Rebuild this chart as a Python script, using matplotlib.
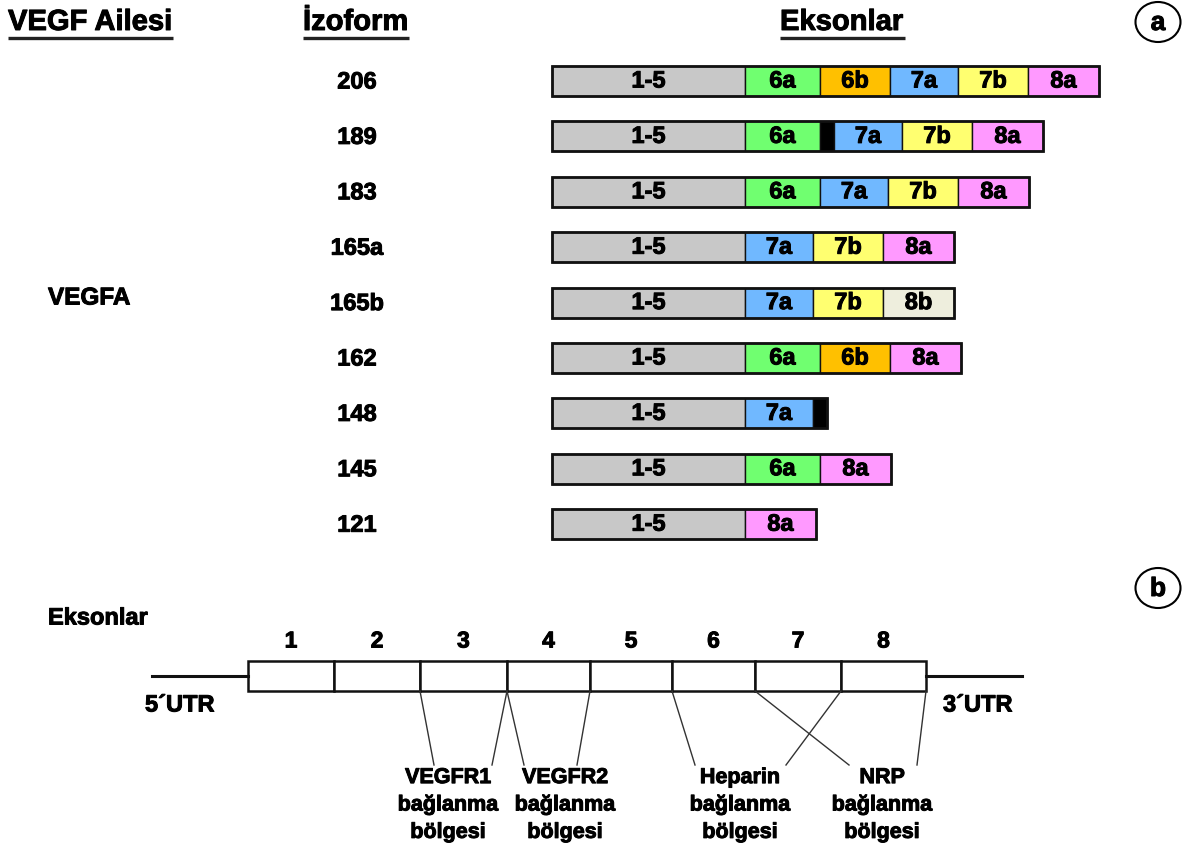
import matplotlib
matplotlib.use("Agg")
import matplotlib.pyplot as plt
from matplotlib.patches import Rectangle, Ellipse
import matplotlib.patheffects as pe

plt.rcParams['font.family'] = ['Liberation Sans', 'DejaVu Sans']
plt.rcParams['font.weight'] = 'bold'

# ---- data ----
family = 'VEGFA'
isoforms = ['206', '189', '183', '165a', '165b', '162', '148', '145', '121']
iso_segments = [
    ['1-5', '6a', '6b', '7a', '7b', '8a'],
    ['1-5', '6a', 'x', '7a', '7b', '8a'],
    ['1-5', '6a', '7a', '7b', '8a'],
    ['1-5', '7a', '7b', '8a'],
    ['1-5', '7a', '7b', '8b'],
    ['1-5', '6a', '6b', '8a'],
    ['1-5', '7a', 'x'],
    ['1-5', '6a', '8a'],
    ['1-5', '8a'],
]
exon_names = ['1-5', '6a', '6b', '7a', '7b', '8a', '8b', 'x']
exon_len = [193, 75, 70, 68, 70, 71, 71, 14]
exon_colors = ['#C8C8C8', '#70FF70', '#FFC000', '#70B8FF', '#FFFF70', '#FF99FF', '#EEEEDD', '#000000']

gene_exons = ['1', '2', '3', '4', '5', '6', '7', '8']
gene_exon_len = [86, 86, 87, 83, 82, 83, 86, 85]
sites = ['VEGFR1\nbağlanma\nbölgesi', 'VEGFR2\nbağlanma\nbölgesi',
         'Heparin\nbağlanma\nbölgesi', 'NRP\nbağlanma\nbölgesi']
site_bounds = [(2, 3), (3, 4), (5, 7), (6, 8)]

# ---- layout ----
W, H = 1194, 846
fig = plt.figure(figsize=(W / 100, H / 100), dpi=100)
ax = fig.add_axes([0, 0, 1, 1])
ax.set_xlim(0, W)
ax.set_ylim(H, 0)
ax.axis('off')

thick = [pe.withStroke(linewidth=0.7, foreground='black')]

def txt(x, y, s, fs, ha='center', **kw):
    return ax.text(x, y, s, fontsize=fs, fontweight='bold', ha=ha, va='center',
                   path_effects=thick, **kw)

hfs = 21
def header(x, y, s, x0, x1):
    txt(x, y, s, hfs, ha='left')
    ax.plot([x0, x1], [y + 16, y + 16], color='#222222', lw=2.4, solid_capstyle='butt')

header(8, 22, 'VEGF Ailesi', 8, 173)
header(303, 22, 'İzoform', 303, 409)
header(780, 22, 'Eksonlar', 780, 905)

for cy, lab in [(22, 'a'), (588, 'b')]:
    ax.add_patch(Ellipse((1158, cy), 45, 40, fill=False, lw=1.5, ec='black'))
    txt(1158, cy + 1, lab, 19)

txt(48, 298, family, 17.5, ha='left')

x_start = 552
row_y0, row_dy, bar_h = 81, 55.4, 30
for i, (iso, segs) in enumerate(zip(isoforms, iso_segments)):
    cy = row_y0 + i * row_dy
    txt(357, cy + 1, iso, 17)
    x = x_start
    for s in segs:
        k = exon_names.index(s)
        w = exon_len[k]
        ax.add_patch(Rectangle((x, cy - bar_h / 2), w, bar_h, fc=exon_colors[k],
                               ec='#111111', lw=1.0))
        if s != 'x':
            txt(x + w / 2, cy, s, 17)
        x += w
    ax.add_patch(Rectangle((x_start, cy - bar_h / 2), x - x_start, bar_h, fill=False,
                           ec='#111111', lw=2.0))

# ---- part b ----
txt(48, 618, 'Eksonlar', 17, ha='left')
gx0, gy0, gh = 248, 661, 30
bounds = [gx0]
for L in gene_exon_len:
    bounds.append(bounds[-1] + L)
for j, name in enumerate(gene_exons):
    ax.add_patch(Rectangle((bounds[j], gy0), gene_exon_len[j], gh, fc='white',
                           ec='#111111', lw=1.8))
    txt((bounds[j] + bounds[j + 1]) / 2, 641, name, 16.5)
ax.plot([152, gx0], [676, 676], color='#111111', lw=2.2)
ax.plot([bounds[-1], 1022], [676, 676], color='#111111', lw=2.2)
txt(145, 705, '5´UTR', 17, ha='left')
txt(943, 705, '3´UTR', 17, ha='left')

site_cx = [448, 565, 740, 882]
end_off = [(-14, 44), (-41, 12), (-45, 46), (-33, 35)]
for s, (b0, b1), cx, (o0, o1) in zip(sites, site_bounds, site_cx, end_off):
    ax.plot([bounds[b0], cx + o0], [gy0 + gh, 765], color='#333333', lw=1.0)
    ax.plot([bounds[b1], cx + o1], [gy0 + gh, 765], color='#333333', lw=1.0)
    txt(cx, 805, s, 15.5, linespacing=1.4)

fig.savefig('out.png', dpi=100)
